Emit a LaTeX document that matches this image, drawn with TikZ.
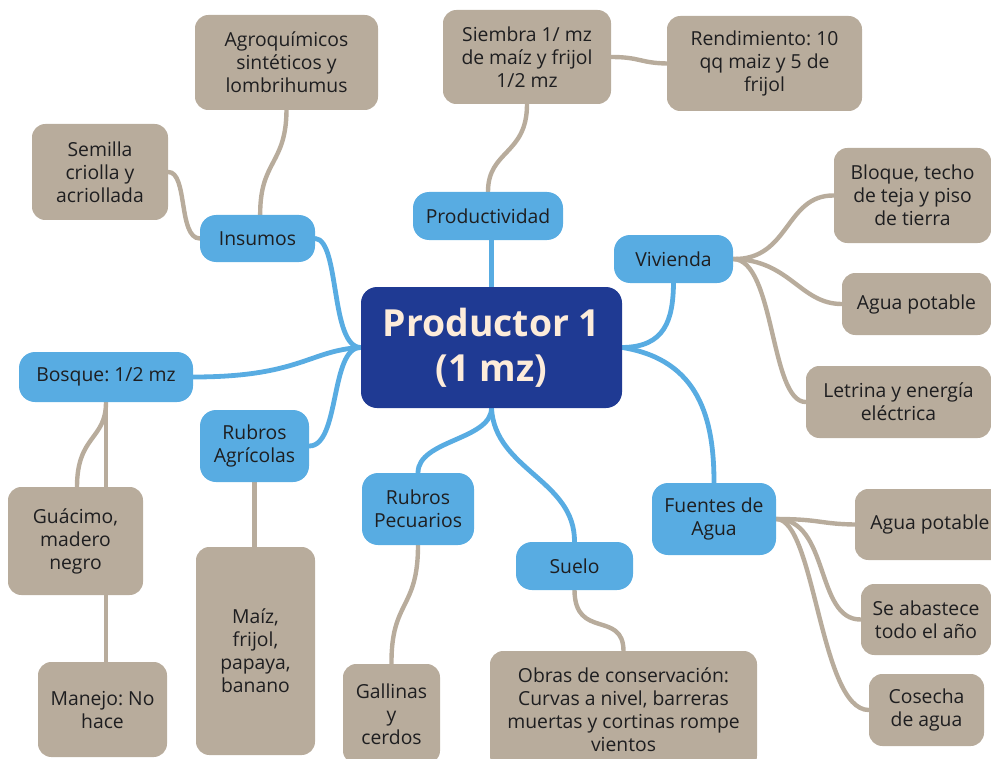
\documentclass[tikz,border=0pt]{standalone}
\usepackage{fontspec}
\setmainfont{Open Sans}
\frenchspacing
\usetikzlibrary{backgrounds,calc}
\definecolor{hub}{RGB}{31,58,147}
\definecolor{hubtext}{RGB}{253,236,218}
\definecolor{topic}{RGB}{88,172,226}
\definecolor{leaf}{RGB}{184,172,156}
\definecolor{ink}{RGB}{30,30,32}
\tikzset{
  sz/.style 2 args={minimum width=#1*0.75pt, minimum height=#2*0.75pt},
  hubbox/.style={fill=hub, text=hubtext, rounded corners=12pt, inner sep=0pt,
    align=center, font=\fontsize{28}{34}\selectfont\bfseries},
  topicbox/.style={fill=topic, text=ink, rounded corners=12pt, inner sep=0pt,
    align=center, font=\fontsize{14.5}{17.5}\selectfont},
  leafbox/.style={fill=leaf, text=ink, rounded corners=10pt, inner sep=0pt,
    align=center, font=\fontsize{14.5}{17.25}\selectfont},
  bluelink/.style={draw=topic, line width=3.6pt, line cap=round},
  brownlink/.style={draw=leaf, line width=3.3pt, line cap=round},
}
\begin{document}
\begin{tikzpicture}[x=0.75pt, y=-0.75pt]
\useasboundingbox (0,0) rectangle (991,759);
\clip (0,0) rectangle (991,759);

% central node
\node[hubbox, sz={261}{121}] (ctr) at (491.5,347.5) {Productor 1\\(1 mz)};

% main topics
\node[topicbox, sz={150}{48}] (prod) at (488,216) {Productividad};
\node[topicbox, sz={115}{47}] (ins) at (257.5,238.5) {Insumos};
\node[topicbox, sz={119}{48}] (viv) at (673.5,259) {Vivienda};
\node[topicbox, sz={174}{50}] (bos) at (106,377) {Bosque: 1/2 mz};
\node[topicbox, sz={109}{72}] (agr) at (254.5,446) {Rubros\\Agrícolas};
\node[topicbox, sz={112}{72}] (pec) at (418,509) {Rubros\\Pecuarios};
\node[topicbox, sz={117}{48}] (sue) at (574.5,566) {Suelo};
\node[topicbox, sz={124}{72}] (fue) at (714,519) {Fuentes de\\Agua};

% details
\node[leafbox, sz={183}{95}] (agq) at (286.5,62.5) {Agroquímicos\\sintéticos y\\lombrihumus};
\node[leafbox, sz={168}{94}] (sie) at (527,57) {Siembra 1/ mz\\de maíz y frijol\\1/2 mz};
\node[leafbox, sz={195}{95}] (ren) at (764.5,63.5) {Rendimiento: 10\\qq maiz y 5 de\\frijol};
\node[leafbox, sz={136}{96}] (sem) at (100,172) {Semilla\\criolla y\\acriollada};
\node[leafbox, sz={157}{95}] (blo) at (912.5,195.5) {Bloque, techo\\de teja y piso\\de tierra};
\node[leafbox, sz={149}{62}] (apv) at (916.5,304) {Agua potable};
\node[leafbox, sz={185}{72}] (let) at (898.5,402) {Letrina y energía\\eléctrica};
\node[leafbox, sz={135}{108}] (gua) at (75.5,541) {Guácimo,\\madero\\negro};
\node[leafbox, sz={129}{95}] (man) at (102.5,709.5) {Manejo: No\\hace};
\node[leafbox, sz={119}{208}] (mai) at (255.5,651) {Maíz,\\frijol,\\papaya,\\banano};
\node[leafbox, sz={97}{100}] (gal) at (391.5,714) {Gallinas\\y\\cerdos};
\node[leafbox, sz={267}{118}] (obr) at (623.5,710) {Obras de conservación:\\Curvas a nivel, barreras\\muertas y cortinas rompe\\vientos};
\node[leafbox, sz={150}{71}] (apf) at (930,524.5) {Agua potable};
\node[leafbox, sz={130}{71}] (aba) at (926,619.5) {Se abastece\\todo el año};
\node[leafbox, sz={115}{72}] (cos) at (926.5,710) {Cosecha\\de agua};

\begin{scope}[on background layer]
  % links from the central node
  \draw[bluelink] (ctr.north) -- (ctr.north |- prod.south);
  \draw[bluelink] (ctr.west) .. controls (330,347) and (340,240) .. (ins.east);
  \draw[bluelink] (ctr.west) .. controls (310,350) and (300,377) .. (bos.east);
  \draw[bluelink] (ctr.west) .. controls (330,347) and (340,446) .. (agr.east);
  \draw[bluelink] (ctr.south) .. controls (491,440) and (418,440) .. (pec.north);
  \draw[bluelink] (ctr.south) .. controls (495,470) and (575,480) .. (sue.north);
  \draw[bluelink] (ctr.east) .. controls (665,347) and (673,320) .. (viv.south);
  \draw[bluelink] (ctr.east) .. controls (700,360) and (714,420) .. (fue.north);

  % links to the details
  \draw[brownlink] (prod.north) .. controls (488,150) and (527,155) .. (sie.south);
  \draw[brownlink] (sie.east) .. controls (640,57) and (640,63) .. (ren.west);
  \draw[brownlink] ([xshift=2pt]ins.north) .. controls (260,160) and (286,165) .. (agq.south);
  \draw[brownlink] (ins.west) .. controls (178,238) and (188,172) .. (sem.east);
  \draw[brownlink] (viv.east) .. controls (790,260) and (785,195) .. (blo.west);
  \draw[brownlink] (viv.east) .. controls (790,260) and (800,304) .. (apv.west);
  \draw[brownlink] (viv.east) .. controls (775,260) and (770,402) .. (let.west);
  \draw[brownlink] (bos.south) .. controls (106,440) and (77,435) .. (77,487);
  \draw[brownlink] (bos.south) -- (bos.south |- man.north);
  \draw[brownlink] (agr.south) -- (agr.south |- mai.north);
  \draw[brownlink] (pec.south) .. controls (418,610) and (391,600) .. (gal.north);
  \draw[brownlink] (sue.south) .. controls (575,640) and (623,610) .. (obr.north);
  \draw[brownlink] (fue.east) .. controls (820,519) and (820,524) .. (apf.west);
  \draw[brownlink] (fue.east) .. controls (830,519) and (815,620) .. (aba.west);
  \draw[brownlink] (fue.east) .. controls (815,519) and (820,710) .. (cos.west);
\end{scope}
\end{tikzpicture}
\end{document}
